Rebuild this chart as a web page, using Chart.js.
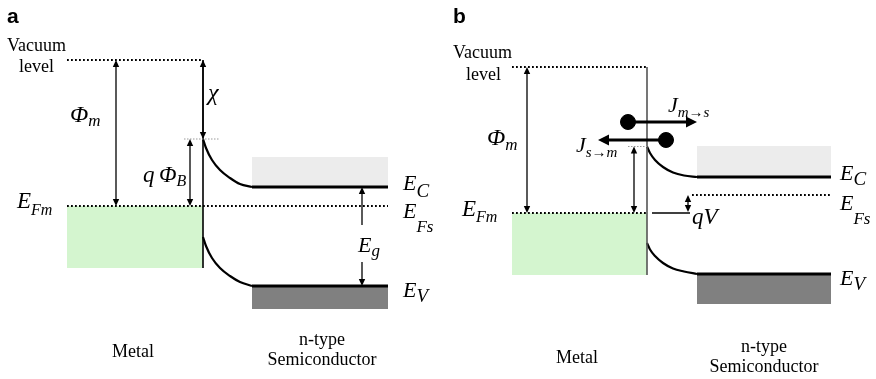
<!DOCTYPE html>
<html><head><meta charset="utf-8">
<script src="https://cdn.jsdelivr.net/npm/chart.js@4"></script>
<style>html,body{margin:0;padding:0;background:#fff}#wrap{width:876px;height:379px;position:relative}</style>
</head><body><div id="wrap"><canvas id="c"></canvas></div>
<script>
// ---- Data (x: position across the junction, y: electron energy, arbitrary units, up = higher) ----
// Band bending (panel a = equilibrium, panel b = forward bias)
const aBendX = [203, 206, 212, 220, 230, 240, 252];
const aCondE = [240, 231, 219, 209, 201, 195, 192];
const aValE  = [142, 133, 121, 111, 103, 97, 93];
const bBendX = [647, 650, 655, 663, 673, 684, 697];
const bCondE = [232.5, 226, 219, 212, 206.5, 203.5, 202];
const bValE  = [136, 129.5, 123, 116, 110.5, 107.5, 105];
// Dotted levels [x1, x2, E]: vacuum & Fermi levels
const dottedLevels = [[67, 203, 319], [67, 388, 173], [512, 647, 312], [512, 647, 166], [692, 831, 184]];
// Thin grey guides at the barrier top [x1, x2, E]
const barrierGuides = [[184, 220, 240], [628, 647, 232.5]];
// Flat band edges [x1, x2, E]
const bandEdges = [[252, 388, 192], [252, 388, 93], [697, 831, 202], [697, 831, 105]];
// Thin solid reference line for qV [x1, x2, E]
const refLines = [[652, 690, 166]];
// Metal/semiconductor interface [x, Etop, Ebottom, colour]
const interfaces = [[203, 319, 111, '#000'], [647, 312, 104, '#555']];
// Filled bands [x1, x2, Etop, Ebottom]
const metalBands = [[67, 203, 173, 111], [512, 647, 166, 104]];
const condBands  = [[252, 388, 222, 192], [697, 831, 233, 202]];
const valBands   = [[252, 388, 92, 70], [697, 831, 104, 75]];
// Vertical arrows [x, E1, E2, headAtE1, headAtE2]
const vArrows = [[116, 319, 173, 1, 1], [203, 319, 240, 1, 1], [190, 240, 173, 1, 1],
                 [362, 154, 192, 0, 1], [362, 117, 93, 0, 1],
                 [527, 312, 166, 1, 1], [634, 232.5, 166, 1, 1], [688, 184, 167, 1, 1]];
// Current arrows with electron dot [xDot, E, xHead]
const jArrows = [[628, 257, 697], [666, 239, 598]];
// Labels [main, subscript, x, E, mainSize, subSize, subDrop]
const mathLabels = [
  ['\u03A6', 'm', 70, 257, 24, 17, 4], ['\u03C7', '', 208, 279, 24, 0, 0],
  ['q\u2009\u03A6', 'B', 143, 197, 23, 16, 4], ['E', 'Fm', 17, 171, 23, 16, 7],
  ['E', 'C', 403, 189, 22, 19, 7], ['E', 'Fs', 403, 161, 22, 17, 14],
  ['E', 'g', 358, 127, 22, 17, 4], ['E', 'V', 403, 82, 22, 19, 5],
  ['\u03A6', 'm', 487, 234, 24, 17, 5], ['J', 'm\u2192s', 668, 267, 22, 15, 5],
  ['J', 's\u2192m', 576, 227, 22, 15, 5], ['E', 'Fm', 462, 163, 23, 16, 6],
  ['qV', '', 692, 155, 23, 0, 0], ['E', 'C', 840, 199, 22, 19, 5],
  ['E', 'Fs', 840, 169, 22, 17, 14], ['E', 'V', 840, 94, 22, 19, 5]
];
const SERIF = '"Liberation Serif", "Times New Roman", "DejaVu Serif", serif';
const SANS = '"Liberation Sans", Arial, sans-serif';
// Plain text [text, x, E, align, font]
const plainLabels = [
  ['a', 7, 356, 'left', 'bold 21px ' + SANS], ['b', 453, 356, 'left', 'bold 21px ' + SANS],
  ['Vacuum', 7, 328, 'left', '18px ' + SERIF], ['level', 19, 307, 'left', '18px ' + SERIF],
  ['Vacuum', 453, 321, 'left', '18px ' + SERIF], ['level', 466, 299, 'left', '18px ' + SERIF],
  ['Metal', 133, 22, 'center', '18px ' + SERIF], ['Metal', 577, 16, 'center', '18px ' + SERIF],
  ['n-type', 322, 34, 'center', '18px ' + SERIF], ['Semiconductor', 322, 14, 'center', '18px ' + SERIF],
  ['n-type', 764, 27, 'center', '18px ' + SERIF], ['Semiconductor', 764, 7, 'center', '18px ' + SERIF]
];

// ---- Build datasets ----
const seg = (s, color, width, dash) => ({
  data: [{x: s[0], y: s[2]}, {x: s[1], y: s[2]}], showLine: true, borderColor: color,
  borderWidth: width, borderDash: dash || [], pointRadius: 0, fill: false, clip: false
});
const curve = (xs, es) => ({
  data: xs.map((x, i) => ({x: x, y: es[i]})), showLine: true, borderColor: '#000', borderWidth: 2.2,
  cubicInterpolationMode: 'monotone', pointRadius: 0, fill: false, clip: false
});
const datasets = [];
dottedLevels.forEach(s => datasets.push(seg(s, '#000', 1.8, [1.8, 2.2])));
barrierGuides.forEach(s => datasets.push(seg(s, '#9a9a9a', 1, [1.5, 1.5])));
bandEdges.forEach(s => datasets.push(seg(s, '#000', 3)));
refLines.forEach(s => datasets.push(seg(s, '#000', 1.3)));
interfaces.forEach(f => datasets.push({
  data: [{x: f[0], y: f[1]}, {x: f[0], y: f[2]}], showLine: true, borderColor: f[3], borderWidth: 1.6,
  pointRadius: 0, fill: false, clip: false
}));
datasets.push(curve(aBendX, aCondE), curve(aBendX, aValE), curve(bBendX, bCondE), curve(bBendX, bValE));
datasets.push({
  data: jArrows.map(j => ({x: j[0], y: j[1]})), showLine: false, pointRadius: 7.5,
  pointBackgroundColor: '#000', pointBorderColor: '#000', clip: false
});

const diagram = {
  id: 'diagram',
  beforeDatasetsDraw(chart) {
    const {ctx, scales: {x, y}} = chart;
    const rect = (r, col) => {
      ctx.fillStyle = col;
      const px1 = x.getPixelForValue(r[0]), px2 = x.getPixelForValue(r[1]);
      const py1 = y.getPixelForValue(r[2]), py2 = y.getPixelForValue(r[3]);
      ctx.fillRect(px1, py1, px2 - px1, py2 - py1);
    };
    ctx.save();
    metalBands.forEach(r => rect(r, '#d4f5cf'));
    condBands.forEach(r => rect(r, '#ececec'));
    valBands.forEach(r => rect(r, '#808080'));
    ctx.restore();
  },
  afterDatasetsDraw(chart) {
    const {ctx, scales: {x, y}} = chart;
    ctx.save();
    const head = (px, py, dx, dy, len, half) => {
      ctx.beginPath();
      ctx.moveTo(px, py);
      ctx.lineTo(px - dx * len - dy * half, py - dy * len + dx * half);
      ctx.lineTo(px - dx * len + dy * half, py - dy * len - dx * half);
      ctx.closePath(); ctx.fill();
    };
    ctx.strokeStyle = '#000'; ctx.fillStyle = '#000';
    vArrows.forEach(a => {
      const px = x.getPixelForValue(a[0]);
      const p1 = y.getPixelForValue(a[1]), p2 = y.getPixelForValue(a[2]);
      const d = Math.sign(p2 - p1), L = 7;
      ctx.lineWidth = 1.3;
      ctx.beginPath();
      ctx.moveTo(px, p1 + (a[3] ? d * L * 0.8 : 0));
      ctx.lineTo(px, p2 - (a[4] ? d * L * 0.8 : 0));
      ctx.stroke();
      if (a[3]) head(px, p1, 0, -d, L, 3.2);
      if (a[4]) head(px, p2, 0, d, L, 3.2);
    });
    jArrows.forEach(j => {
      const p1 = x.getPixelForValue(j[0]), p2 = x.getPixelForValue(j[2]);
      const py = y.getPixelForValue(j[1]);
      const d = Math.sign(p2 - p1), L = 11;
      ctx.lineWidth = 3;
      ctx.beginPath(); ctx.moveTo(p1, py); ctx.lineTo(p2 - d * L * 0.8, py); ctx.stroke();
      head(p2, py, d, 0, L, 5.5);
    });
    ctx.textBaseline = 'alphabetic';
    plainLabels.forEach(t => {
      ctx.font = t[4]; ctx.textAlign = t[3];
      ctx.fillText(t[0], x.getPixelForValue(t[1]), y.getPixelForValue(t[2]));
    });
    ctx.textAlign = 'left';
    mathLabels.forEach(m => {
      const px = x.getPixelForValue(m[2]), py = y.getPixelForValue(m[3]);
      ctx.font = 'italic ' + m[4] + 'px ' + SERIF;
      ctx.fillText(m[0], px, py);
      if (m[1]) {
        const w = ctx.measureText(m[0]).width;
        ctx.font = 'italic ' + m[5] + 'px ' + SERIF;
        ctx.fillText(m[1], px + w, py + m[6]);
      }
    });
    ctx.restore();
  }
};

function draw() {
  new Chart(document.getElementById('c'), {
    type: 'scatter',
    data: {datasets: datasets},
    options: {
      responsive: true, maintainAspectRatio: false, animation: false, events: [],
      layout: {padding: 0, autoPadding: false},
      plugins: {legend: {display: false}, tooltip: {enabled: false}},
      scales: {
        x: {type: 'linear', min: 0, max: 876, display: false},
        y: {type: 'linear', min: 0, max: 379, display: false}
      }
    },
    plugins: [diagram]
  });
}
Promise.all([
  document.fonts.load('18px "Liberation Serif"'),
  document.fonts.load('italic 22px "Liberation Serif"'),
  document.fonts.load('bold 21px "Liberation Sans"')
]).then(draw, draw);
</script></body></html>
